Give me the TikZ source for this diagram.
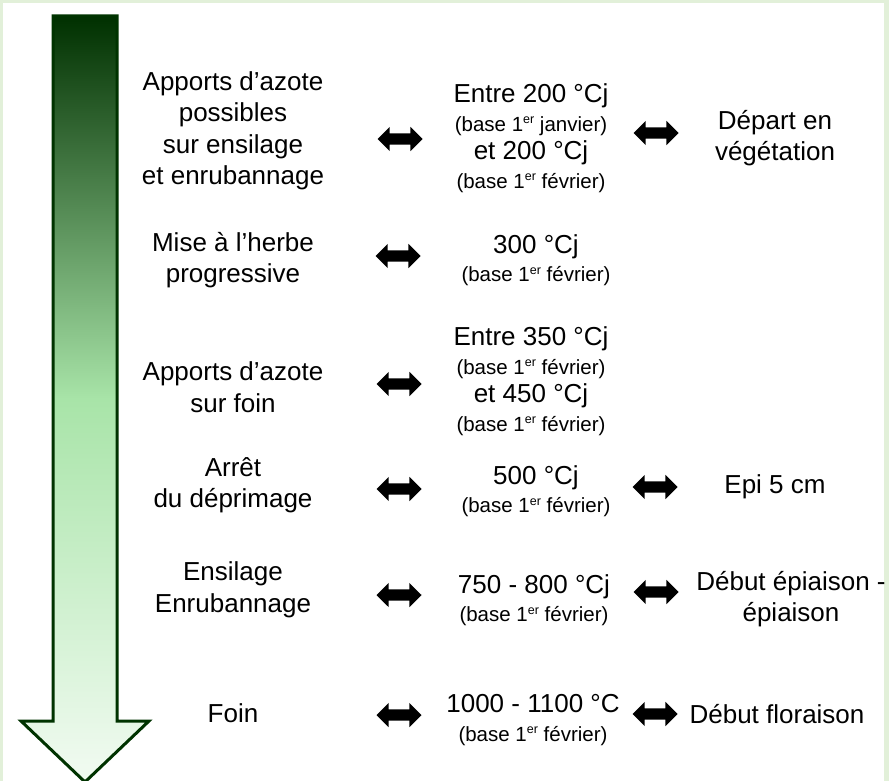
\documentclass[tikz,border=0pt]{standalone}
\usepackage{fontspec}
\setmainfont{Liberation Sans}
\usetikzlibrary{shapes.arrows}
\definecolor{bordergreen}{HTML}{E2F0D9}
\definecolor{darkgreen}{HTML}{003300}
\definecolor{gtop}{HTML}{003000}
\definecolor{gmid}{HTML}{A8E4A8}
\definecolor{gbot}{HTML}{F2FBF2}
\newcommand{\bigsz}{\fontsize{26}{31.5}\selectfont}
\newcommand{\medsz}{\fontsize{26}{28.5}\selectfont}
\newcommand{\smsz}{\fontsize{20.5}{28.5}\selectfont}
\newcommand{\smline}[1]{{\smsz #1}}
\newcommand{\ersup}{\raisebox{0.36em}{\fontsize{12.5}{12.5}\selectfont er}}
\newcommand{\basefev}{\smline{(base 1\ersup\ février)}}
\begin{document}
\begin{tikzpicture}[x=1pt,y=-1pt,
  lab/.style={font=\bigsz, align=center, inner sep=0pt},
  val/.style={font=\medsz, align=center, inner sep=0pt},
  dbl/.style={double arrow, fill=black, draw=none, minimum height=45pt,
    minimum width=24pt, inner xsep=0pt, inner ysep=5.5pt,
    double arrow head extend=6.5pt}
]
\useasboundingbox (0,0) rectangle (889,781);
% background
\fill[bordergreen] (0,0) rectangle (889,781);
\fill[white] (3,3) rectangle (884,781);
% big arrow
\shade[top color=gtop, bottom color=gbot, middle color=gmid]
  (53,16) -- (117,16) -- (117,721) -- (149,721) -- (85,782) -- (21,721) -- (53,721) -- cycle;
\draw[darkgreen, line width=3pt, line join=miter]
  (53,16) -- (117,16) -- (117,721) -- (149,721) -- (85,782) -- (21,721) -- (53,721) -- cycle;

% left column
\node[lab] (l1) at (233,131) {Apports d’azote\\possibles\\sur ensilage\\et enrubannage};
\node[lab] (l2) at (233,260) {Mise à l’herbe\\progressive};
\node[lab] (l3) at (233,387) {Apports d’azote\\sur foin};
\node[lab] (l4) at (233,485) {Arrêt\\du déprimage};
\node[lab] (l5) at (233,590) {Ensilage\\Enrubannage};
\node[lab] (l6) at (233,713) {Foin};

% centre column
\node[val] (c1) at (531,138) {Entre 200 °Cj\\\smline{(base 1\ersup\ janvier)}\\et 200 °Cj\\\basefev};
\node[val] (c2) at (536,260) {300 °Cj\\\basefev};
\node[val] (c3) at (531,381) {Entre 350 °Cj\\\basefev\\et 450 °Cj\\\basefev};
\node[val] (c4) at (536,491) {500 °Cj\\\basefev};
\node[val] (c5) at (534,600) {750 - 800 °Cj\\\basefev};
\node[val] (c6) at (533,720) {1000 - 1100 °C\\\basefev};

% right column
\node[lab] (r1) at (775,138) {Départ en\\végétation};
\node[lab] (r4) at (775,487) {Epi 5 cm};
\node[lab] (r5) at (791,599) {Début épiaison -\\épiaison};
\node[lab] (r6) at (777,714) {Début floraison};

% double arrows
\node[dbl] (a1) at (400,139) {};
\node[dbl] (a2) at (398,256) {};
\node[dbl] (a3) at (399,384) {};
\node[dbl] (a4) at (399,489) {};
\node[dbl] (a5) at (399,595) {};
\node[dbl] (a6) at (399,715) {};
\node[dbl] (b1) at (656,133) {};
\node[dbl] (b4) at (655,487) {};
\node[dbl] (b5) at (656,592) {};
\node[dbl] (b6) at (655,714) {};
\end{tikzpicture}
\end{document}
